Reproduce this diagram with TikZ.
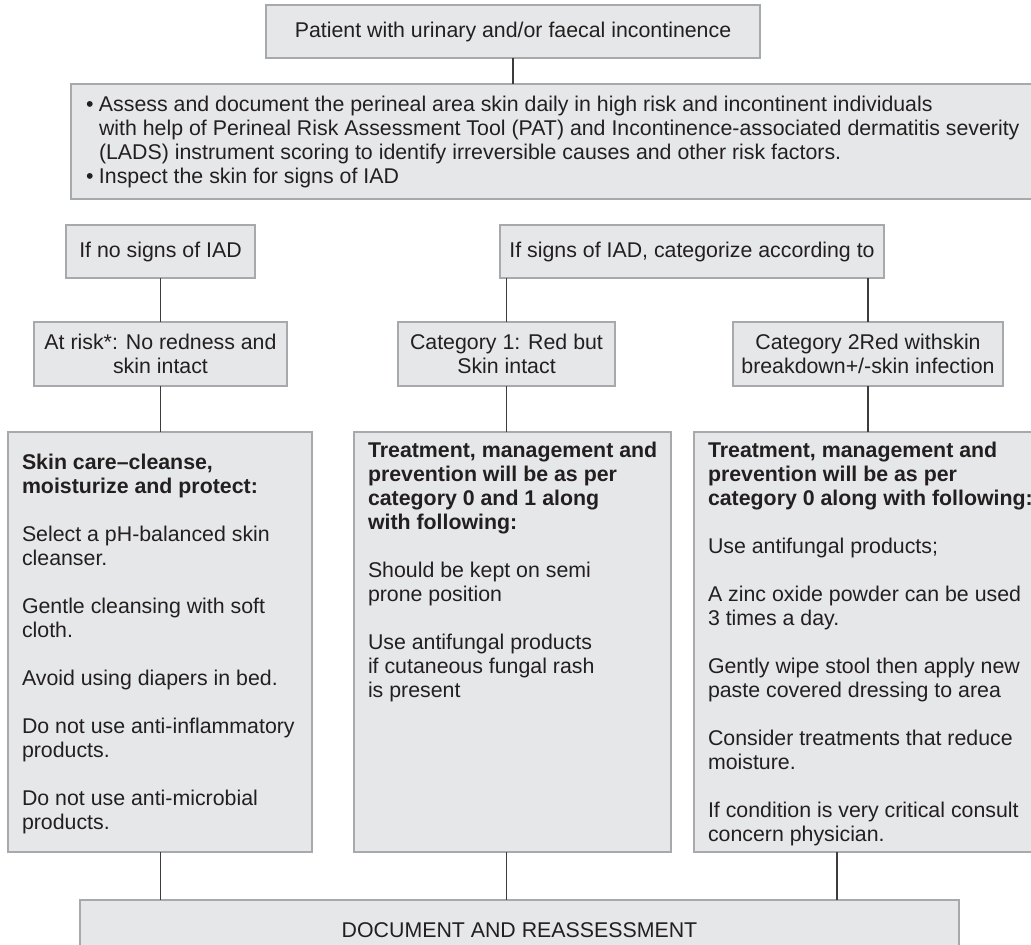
\documentclass[tikz,border=0pt]{standalone}
\usepackage{fontspec}
\setmainfont{Liberation Sans}
\usepackage{xcolor}
\usetikzlibrary{positioning,calc}

\definecolor{boxfill}{HTML}{E6E7E8}
\definecolor{boxline}{HTML}{A7A9AC}
\definecolor{linkline}{HTML}{3C3C3C}
\definecolor{ink}{HTML}{231F20}

\newcommand{\emptyline}{\\[18pt]}
\newcommand{\bulletmark}{\leavevmode\llap{\textbullet\hspace{4pt}}}
\newcommand{\paneltext}[2]{\parbox[t][300pt][t]{#1}{\raggedright\leftskip=10.5pt #2}}

\begin{document}
\begin{tikzpicture}[x=0.75pt, y=-0.75pt,
    every node/.style={font=\fontsize{16}{18}\selectfont, text=ink},
    box/.style={draw=boxline, fill=boxfill, line width=1.1pt, inner sep=0pt, outer sep=0pt, align=center},
    panel/.style={draw=boxline, fill=boxfill, line width=1.1pt, outer sep=0pt, inner xsep=0pt, inner ysep=7.5pt, anchor=north west},
    link/.style={draw=linkline, line width=0.9pt}]

    \useasboundingbox (0,0) rectangle (1031,945);
    \clip (0,0) rectangle (1031,945);

    \node[box, minimum width=370.5pt, minimum height=39.75pt] (patient) at (513,31.5)
        {Patient with urinary and/or faecal incontinence};

    \node[box, anchor=north west, minimum height=86.25pt] (assess) at (71,84)
        {\parbox{726.75pt}{\raggedright\leftskip=21pt
        \bulletmark Assess and document the perineal area skin daily in high risk and incontinent individuals\\
        with help of Perineal Risk Assessment Tool (PAT) and Incontinence-associated dermatitis severity\\
        (LADS) instrument scoring to identify irreversible causes and other risk factors.\\
        \bulletmark Inspect the skin for signs of IAD}};

    \node[box, minimum width=141.75pt, minimum height=39.75pt] (nosigns) at (160.5,251.5) {If no signs of IAD};
    \node[box, minimum width=288pt, minimum height=39.75pt] (signs) at (692,251.5) {If signs of IAD, categorize according to};

    \node[box, minimum width=189.75pt, minimum height=48pt] (atrisk) at (160.5,354) {At risk*: No redness and\\skin intact};
    \node[box, minimum width=162.75pt, minimum height=48pt] (cat1) at (506.5,354) {Category 1: Red but\\Skin intact};
    \node[box, minimum width=202.5pt, minimum height=48pt] (cat2) at (868,354) {Category 2Red withskin\\breakdown+/-skin infection};

    \node[panel] (care) at (8,432) {\paneltext{228pt}{%
        \textbf{\rule{0pt}{20.7pt}Skin care--cleanse,\\moisturize and protect:}\emptyline
        Select a pH-balanced skin\\cleanser.\emptyline
        Gentle cleansing with soft\\cloth.\emptyline
        Avoid using diapers in bed.\emptyline
        Do not use anti-inflammatory\\products.\emptyline
        Do not use anti-microbial\\products.}};

    \node[panel] (mid) at (354,432) {\paneltext{237.75pt}{%
        \textbf{Treatment, management and\\prevention will be as per\\category 0 and 1 along\\with following:}\emptyline
        Should be kept on semi\\prone position\emptyline
        Use antifungal products\\if cutaneous fungal rash\\is present}};

    \node[panel] (severe) at (694,432) {\paneltext{263.25pt}{%
        \textbf{Treatment, management and\\prevention will be as per\\category 0 along with following:}\emptyline
        Use antifungal products;\emptyline
        A zinc oxide powder can be used\\3 times a day.\emptyline
        Gently wipe stool then apply new\\paste covered dressing to area\emptyline
        Consider treatments that reduce\\moisture.\emptyline
        If condition is very critical consult\\concern physician.}};

    \node[box, minimum width=659.25pt, minimum height=45pt] (doc) at (519.5,930) {DOCUMENT AND REASSESSMENT};

    \draw[link] (patient) -- (patient |- assess.north);
    \draw[link] (nosigns) -- (atrisk);
    \draw[link] (cat1 |- signs.south) -- (cat1);
    \draw[link] (cat2 |- signs.south) -- (cat2);
    \draw[link] (atrisk) -- (atrisk |- care.north);
    \draw[link] (cat1) -- (cat1 |- mid.north);
    \draw[link] (cat2) -- (cat2 |- severe.north);
    \draw[link] (atrisk |- care.south) -- (atrisk |- doc.north);
    \draw[link] (cat1 |- mid.south) -- (cat1 |- doc.north);
    \draw[link] ($(cat2 |- severe.south)+(-31,0)$) -- ($(cat2 |- doc.north)+(-31,0)$);
\end{tikzpicture}
\end{document}
